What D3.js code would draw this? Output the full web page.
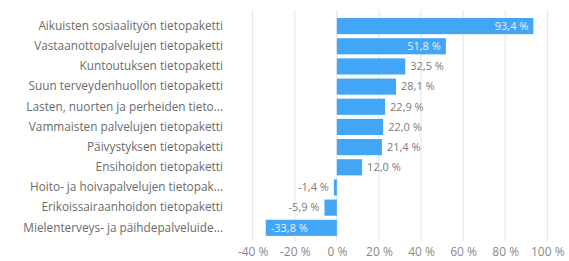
<!DOCTYPE html>
<html>
<head>
<meta charset="utf-8">
<script src="https://cdn.jsdelivr.net/npm/d3@7"></script>
<style>
  body { margin: 0; background: #fff; }
  svg { display: block; font-family: "Open Sans", sans-serif; }
</style>
</head>
<body>
<div id="chart"></div>
<script>
// categories and values (% change)
var categories = [
  "Aikuisten sosiaalityön tietopaketti",
  "Vastaanottopalvelujen tietopaketti",
  "Kuntoutuksen tietopaketti",
  "Suun terveydenhuollon tietopaketti",
  "Lasten, nuorten ja perheiden tieto...",
  "Vammaisten palvelujen tietopaketti",
  "Päivystyksen tietopaketti",
  "Ensihoidon tietopaketti",
  "Hoito- ja hoivapalvelujen tietopak...",
  "Erikoissairaanhoidon tietopaketti",
  "Mielenterveys- ja päihdepalveluide..."
];
var values = [93.4, 51.8, 32.5, 28.1, 22.9, 22.0, 21.4, 12.0, -1.4, -5.9, -33.8];
var ticks = [-40, -20, 0, 20, 40, 60, 80, 100];

var width = 569, height = 261;

var svg = d3.select("#chart").append("svg")
  .attr("width", width)
  .attr("height", height);

var x = d3.scaleLinear()
  .domain([-40, 100])
  .range([252.7, 547.3]);

var y = d3.scaleBand()
  .domain(categories)
  .range([16, 237.9])
  .paddingInner(0.2)
  .paddingOuter(0.1);

// finnish style: comma decimal, plain hyphen minus
var fmt = function(v) { return d3.format(".1f")(v).replace(".", ",").replace("\u2212", "-") + " %"; };

// gridlines
svg.append("g")
  .selectAll("line")
  .data(ticks)
  .enter().append("line")
  .attr("x1", function(d) { return x(d); })
  .attr("x2", function(d) { return x(d); })
  .attr("y1", 10)
  .attr("y2", 241)
  .attr("stroke", "#e3e3e3")
  .attr("stroke-width", 1);

// x axis labels
var xAxis = d3.axisBottom(x)
  .tickValues(ticks)
  .tickSize(0)
  .tickPadding(0)
  .tickFormat(function(d) { return String(d) + " %"; });

svg.append("g")
  .attr("transform", "translate(0,247)")
  .call(xAxis)
  .call(function(g) { g.select(".domain").remove(); })
  .selectAll("text")
  .attr("fill", "#8a8a8a")
  .attr("font-size", "12px")
  .attr("font-family", "Open Sans, sans-serif");

// category labels
var yAxis = d3.axisLeft(y).tickSize(0).tickPadding(0);
svg.append("g")
  .attr("transform", "translate(223,0)")
  .call(yAxis)
  .call(function(g) { g.select(".domain").remove(); })
  .selectAll("text")
  .attr("fill", "#6b6b6b")
  .attr("font-size", "11.8px")
  .attr("font-family", "Open Sans, sans-serif");

// bars
svg.selectAll(".bar")
  .data(values)
  .enter().append("rect")
  .attr("class", "bar")
  .attr("x", function(d) { return x(Math.min(0, d)); })
  .attr("width", function(d) { return Math.abs(x(d) - x(0)); })
  .attr("y", function(d, i) { return y(categories[i]); })
  .attr("height", y.bandwidth())
  .attr("fill", "#42a5f5");

// value labels
svg.selectAll(".val")
  .data(values)
  .enter().append("text")
  .attr("class", "val")
  .attr("font-size", "11px")
  .attr("dy", "0.35em")
  .attr("y", function(d, i) { return y(categories[i]) + y.bandwidth() / 2; })
  .each(function(d) {
    var t = d3.select(this);
    var inside = Math.abs(d) > 33;
    var anchor, px, col;
    if (d >= 0) {
      if (inside) { anchor = "end"; px = x(d) - 5; col = "#e3f1fd"; }
      else { anchor = "start"; px = x(d) + 5; col = "#7a7a7a"; }
    } else {
      if (inside) { anchor = "start"; px = x(d) + 5; col = "#e3f1fd"; }
      else { anchor = "end"; px = x(d) - 5; col = "#7a7a7a"; }
    }
    t.attr("x", px).attr("text-anchor", anchor).attr("fill", col).text(fmt(d));
  });
</script>
</body>
</html>
